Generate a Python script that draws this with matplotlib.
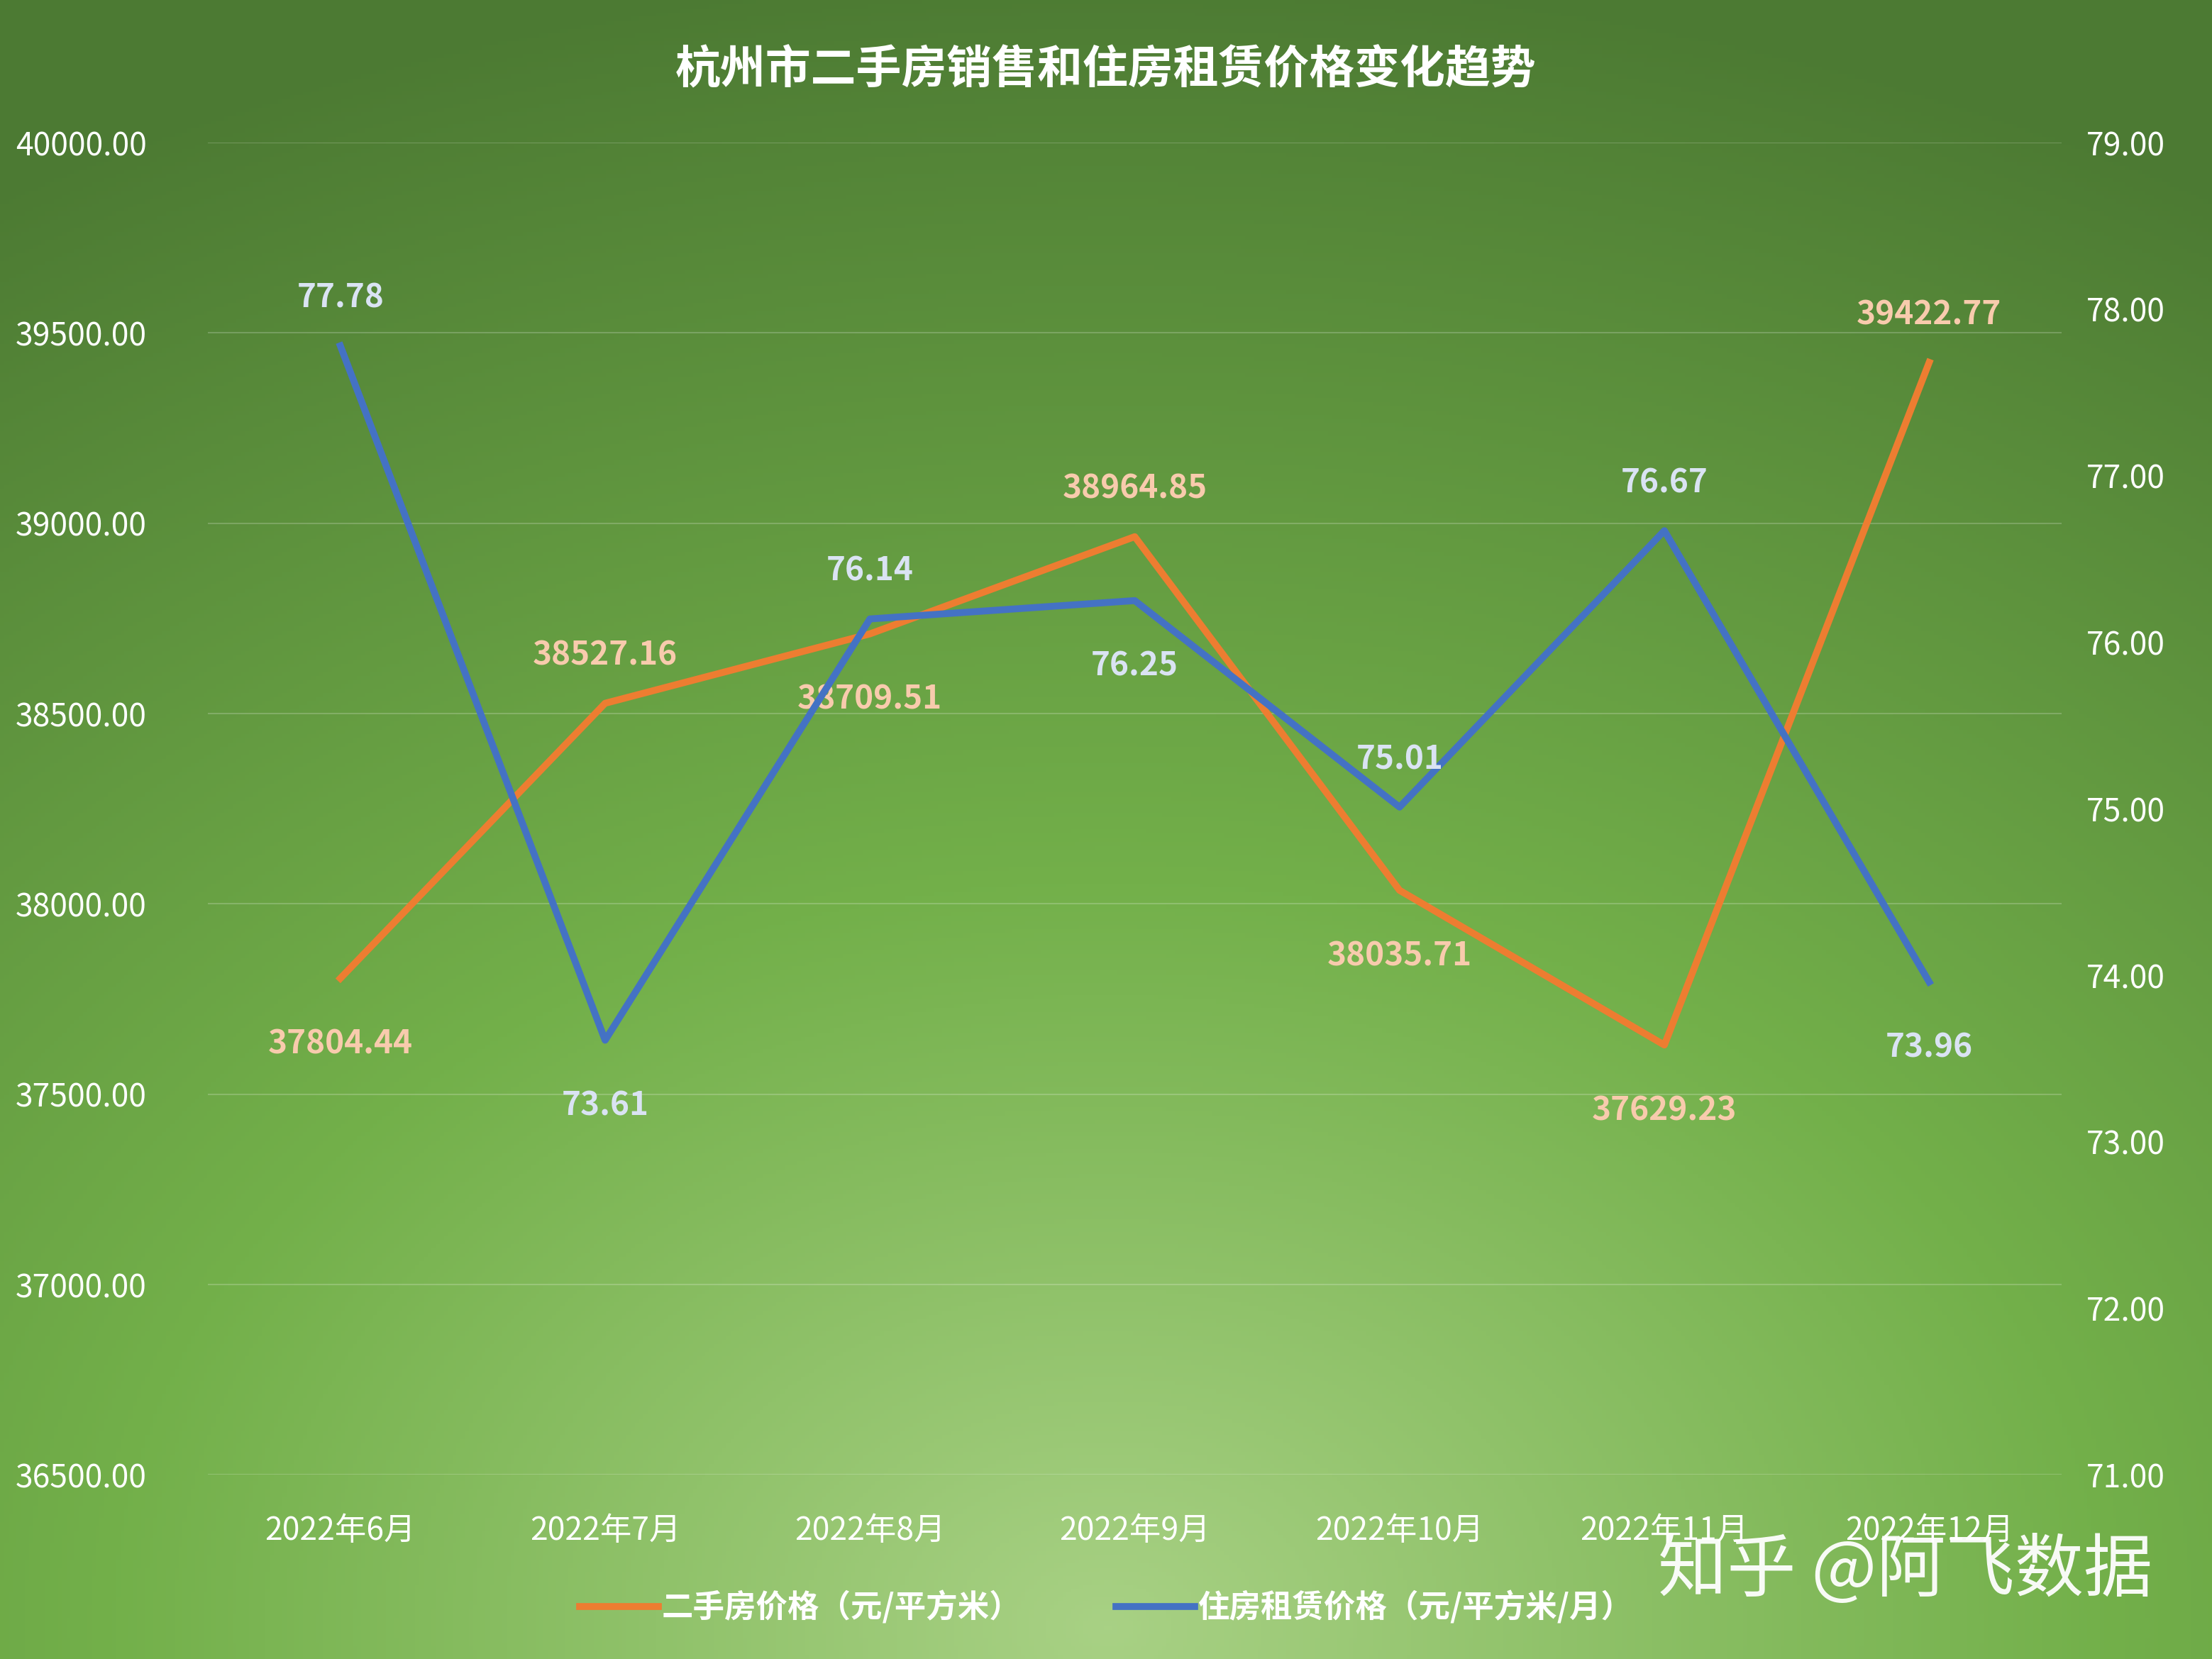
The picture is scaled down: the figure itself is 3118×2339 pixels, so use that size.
import numpy as np
import matplotlib.pyplot as plt

plt.rcParams['font.family'] = ['Noto Sans CJK SC', 'DejaVu Sans']

months = ['2022年6月', '2022年7月', '2022年8月', '2022年9月', '2022年10月', '2022年11月', '2022年12月']
price = [37804.44, 38527.16, 38709.51, 38964.85, 38035.71, 37629.23, 39422.77]
rent = [77.78, 73.61, 76.14, 76.25, 75.01, 76.67, 73.96]
price_pos = ['below', 'above', 'below', 'above', 'below', 'below', 'above']
rent_pos = ['above', 'below', 'above', 'below', 'above', 'above', 'below']

ORANGE = '#ED7D31'
BLUE = '#4472C4'

fig = plt.figure(figsize=(31.18, 23.39), dpi=100)

# background gradient
bg = fig.add_axes([0, 0, 1, 1], zorder=-10)
h, w = 400, 533
yy, xx = np.mgrid[0:h, 0:w]
d = np.sqrt(((xx - w * 0.5) / w) ** 2 + ((yy - h * 0.98) / h) ** 2)
t = np.clip(d / 1.0, 0, 1)
light = np.array([0.66, 0.82, 0.52])
mid = np.array([0.45, 0.69, 0.29])
dark = np.array([0.30, 0.48, 0.20])
img = np.where(t[..., None] < 0.45,
               light + (mid - light) * (t[..., None] / 0.45),
               mid + (dark - mid) * ((t[..., None] - 0.45) / 0.55))
bg.imshow(np.clip(img, 0, 1), aspect='auto', origin='upper')
bg.axis('off')

ax = fig.add_axes([0.094, 0.111, 0.838, 0.803])
ax.patch.set_alpha(0)
ax2 = ax.twinx()
x = np.arange(len(months))

ax.plot(x, price, color=ORANGE, lw=7, zorder=3)
ax2.plot(x, rent, color=BLUE, lw=7, zorder=3)

ax.set_ylim(36500, 40000)
ax.set_yticks(np.arange(36500, 40001, 500))
ax.set_yticklabels([f'{v:.2f}' for v in np.arange(36500, 40001, 500)])
ax2.set_ylim(71, 79)
ax2.set_yticks(np.arange(71, 80, 1))
ax2.set_yticklabels([f'{v:.2f}' for v in np.arange(71, 80, 1)])
ax.set_xlim(-0.5, 6.5)
ax.set_xticks(x)
ax.set_xticklabels(months)
ax.grid(axis='y', color='white', alpha=0.2, lw=1.5)
for a in (ax, ax2):
    for s in a.spines.values():
        s.set_visible(False)
    a.tick_params(length=0, colors='white', labelsize=32, pad=25)
ax.tick_params(axis='y', pad=62)
ax.tick_params(axis='x', pad=40)

for xi, v, p in zip(x, price, price_pos):
    off = 48 if p == 'above' else -67
    ax.annotate(f'{v:.2f}', (xi, v), xytext=(0, off), textcoords='offset points',
                ha='center', va='center', color='#F8CBAD', fontsize=33, fontweight='bold')
for xi, v, p in zip(x, rent, rent_pos):
    off = 48 if p == 'above' else -67
    ax2.annotate(f'{v:.2f}', (xi, v), xytext=(0, off), textcoords='offset points',
                 ha='center', va='center', color='#DAE3F3', fontsize=33, fontweight='bold')

fig.text(0.5, 0.958, '杭州市二手房销售和住房租赁价格变化趋势', ha='center', va='center',
         color='white', fontsize=46, fontweight='bold')

h1, = ax.plot([], [], color=ORANGE, lw=7, label='二手房价格（元/平方米）')
h2, = ax.plot([], [], color=BLUE, lw=7, label='住房租赁价格（元/平方米/月）')
fig.legend(handles=[h1, h2], loc='center', bbox_to_anchor=(0.5, 0.031), ncol=2,
           frameon=False, labelcolor='white', prop={'weight': 'bold', 'size': 32},
           handlelength=2.5, columnspacing=3, handletextpad=0.1)

fig.text(0.973, 0.053, '知乎 @阿飞数据', ha='right', va='center', color='white',
         fontsize=70, alpha=0.95)

fig.savefig('out.png', dpi=100)
